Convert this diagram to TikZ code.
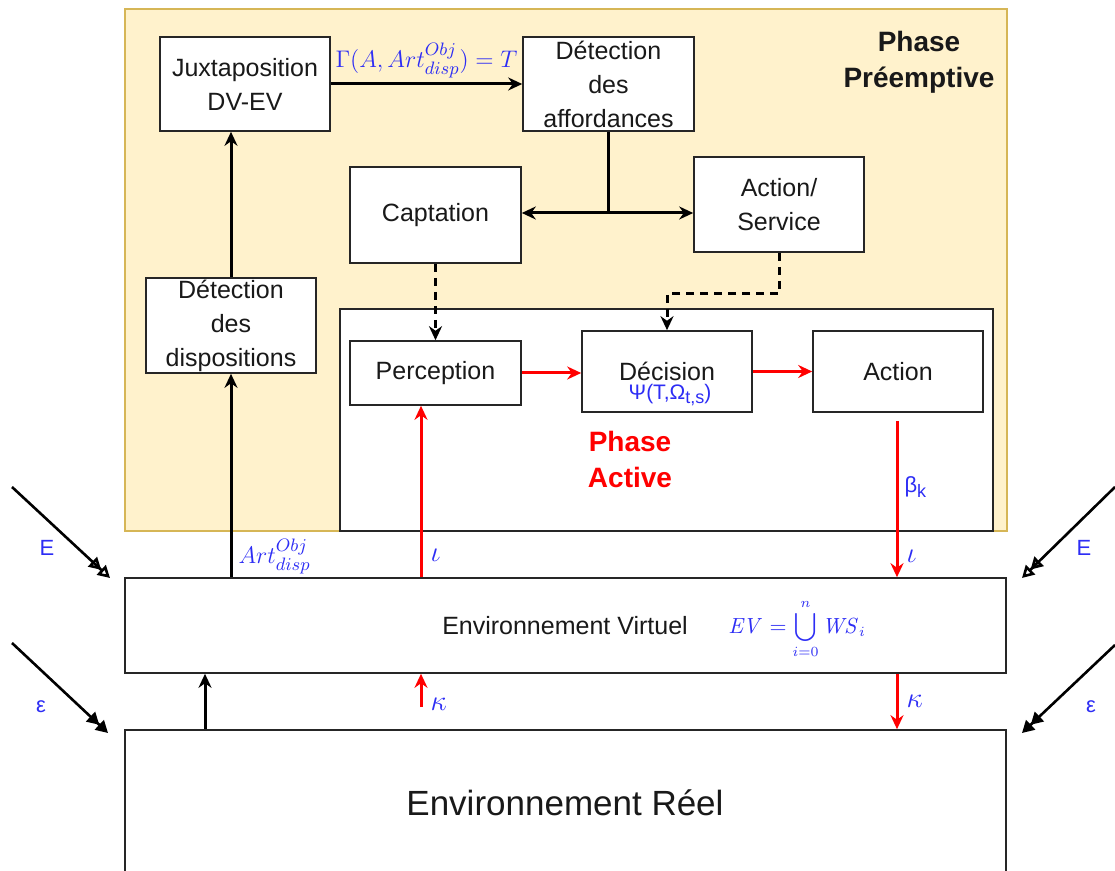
\documentclass[tikz,border=0pt]{standalone}
\usepackage[no-math]{fontspec}
\setmainfont{Liberation Sans}
\usetikzlibrary{arrows.meta,calc}
\definecolor{prefill}{RGB}{255,242,204}
\definecolor{preline}{RGB}{214,182,86}
\definecolor{lbl}{RGB}{45,45,245}
\definecolor{rd}{RGB}{255,0,0}
\begin{document}
\begin{tikzpicture}[x=0.5pt,y=-0.5pt,
  box/.style={draw=black!85, line width=0.8pt, fill=white, align=center,
    font=\fontsize{12.5}{17}\selectfont, inner sep=0pt, text=black!90},
  conn/.style={line width=1.5pt, -{Stealth[length=7pt,width=6.5pt]}},
  dconn/.style={line width=1.5pt, {Stealth[length=7pt,width=6.5pt]}-{Stealth[length=7pt,width=6.5pt]}},
  dsh/.style={conn, dash pattern=on 4pt off 3pt},
  rconn/.style={line width=1.5pt, draw=rd, -{Stealth[length=7pt,width=6.5pt,fill=rd]}},
  lab/.style={text=lbl, inner sep=1pt},
  glab/.style={lab, font=\fontsize{14}{16}\selectfont},
  ext/.style={line width=1.3pt, -{Triangle[open,length=6pt,width=6.5pt]Triangle[open,length=6pt,width=6.5pt]}},
  extf/.style={line width=1.3pt, -{Triangle[length=6pt,width=6.5pt]Triangle[length=6pt,width=6.5pt]}},
  phase/.style={font=\fontsize{14}{18}\selectfont\bfseries, align=center}
]
\clip (0,0) rectangle (1115,871);
\fill[white] (0,0) rectangle (1115,871);
% panels
\node[draw=preline, fill=prefill, line width=0.8pt, minimum width=441pt, minimum height=261pt, inner sep=0pt] (pre) at (566,270) {};
\node[phase, text=black!90] (pretitle) at (919,62) {Phase\\Préemptive};
\node[draw=black!85, fill=white, line width=0.8pt, minimum width=326.5pt, minimum height=111pt, inner sep=0pt] (act) at (666.5,420) {};
\node[phase, text=rd] (acttitle) at (630,459) {Phase\\Active};
% boxes
\node[box, minimum width=85pt, minimum height=47pt] (juxta) at (245,84) {Juxtaposition\\DV-EV};
\node[box, minimum width=85.5pt, minimum height=47pt] (aff) at (608.5,84) {Détection\\des\\affordances};
\node[box, minimum width=85.5pt, minimum height=48pt] (capt) at (435.5,215) {Captation};
\node[box, minimum width=85pt, minimum height=47.5pt] (aserv) at (779,204.5) {Action/\\Service};
\node[box, minimum width=85pt, minimum height=47.5pt] (dispo) at (231,325.5) {Détection\\des\\dispositions};
\node[box, minimum width=85.5pt, minimum height=32pt] (perc) at (435.5,373) {Perception};
\node[box, minimum width=85pt, minimum height=40.5pt] (dec) at (667,371.5) {};
\node[box, anchor=center] (dectxt) at (667,371) [draw=none, fill=none] {Décision};
\node[lab, font=\fontsize{10.5}{12}\selectfont] (psi) at (670,395) {Ψ(T,Ω\raisebox{-0.35ex}{\fontsize{9}{10}\selectfont t,s})};
\node[box, minimum width=85pt, minimum height=40.5pt] (action) at (898,371.5) {Action};
\node[box, minimum width=440.5pt, minimum height=47.5pt] (ev) at (565.5,625.5) {};
\node[text=black!90, font=\fontsize{12.5}{15}\selectfont] (evtxt) at (565,626) {Environnement Virtuel};
\node[lab, font=\fontsize{10.5}{12}\selectfont] (evf) at (797,629) {$\displaystyle \mathit{EV}=\bigcup_{i=0}^{n} \mathit{WS}_i$};
\node[box, minimum width=440.5pt, minimum height=73pt] (er) at (565.5,803) {};
\node[text=black!90, font=\fontsize{17.5}{21}\selectfont] (ertxt) at (565,803) {Environnement Réel};
% helper coordinates
\coordinate (j) at (608.5,213);
\coordinate (xa) at (421,0);
\coordinate (xb) at (205,0);
\coordinate (xc) at (897,0);
% black connectors
\draw[conn] (juxta.east) -- (aff.west) node[midway, above=1pt, lab, font=\fontsize{12.5}{14}\selectfont] (gam) {$\Gamma(A,Art_{disp}^{Obj})=T$};
\draw[line width=1.5pt] (aff.south -| j) -- (j);
\draw[dconn] (capt.east |- j) -- (aserv.west |- j);
\draw[conn] (dispo.north) -- (dispo.north |- juxta.south);
\draw[conn] (dispo.south |- ev.north) -- (dispo.south) node[pos=0.1, right=2pt, lab, font=\fontsize{12.5}{14}\selectfont] (artl) {$Art_{disp}^{Obj}$};
\draw[dsh] (capt.south) -- (perc.north);
\draw[dsh] (aserv.south) -- ++(0,41) -| (dec.north);
\draw[conn] (er.north -| xb) -- (ev.south -| xb);
% red connectors
\draw[rconn] (perc.east) -- (perc.east -| dec.west);
\draw[rconn] (dec.east) -- (action.west);
\draw[rconn] (ev.north -| xa) -- (perc.south -| xa) node[pos=0.13, right=3pt, glab] (i1) {$\iota$};
\draw[rconn, shorten <=4pt] (action.south -| xc) -- (ev.north -| xc) node[pos=0.45, right=2pt, lab, font=\fontsize{11}{12}\selectfont] (bk) {β\raisebox{-0.4ex}{\fontsize{9}{10}\selectfont k}} node[pos=0.87, right=3pt, glab] (i2) {$\iota$};
\draw[rconn, shorten <=11pt] (er.north -| xa) -- (ev.south -| xa) node[pos=0.45, right=3pt, glab] (k1) {$\kappa$};
\draw[rconn] (ev.south -| xc) -- (er.north -| xc) node[pos=0.5, right=3pt, glab] (k2) {$\kappa$};
% external influences
\coordinate (l1s) at (12,487); \coordinate (l1e) at (110,578);
\coordinate (l2s) at (12,643); \coordinate (l2e) at (108,733);
\coordinate (r1s) at (1115,487); \coordinate (r1e) at (1022,578);
\coordinate (r2s) at (1115,645); \coordinate (r2e) at (1022,733);
\draw[ext] (l1s) -- (l1e);
\draw[extf] (l2s) -- (l2e);
\draw[ext] (r1s) -- (r1e);
\draw[extf] (r2s) -- (r2e);
\node[lab, font=\fontsize{11}{12}\selectfont] (le) at (47,548) {E};
\node[lab, font=\fontsize{11}{12}\selectfont] (re) at (1084,548) {E};
\node[lab, font=\fontsize{11}{12}\selectfont] (leps) at (41,707) {ε};
\node[lab, font=\fontsize{11}{12}\selectfont] (reps) at (1091,707) {ε};
\end{tikzpicture}
\end{document}
